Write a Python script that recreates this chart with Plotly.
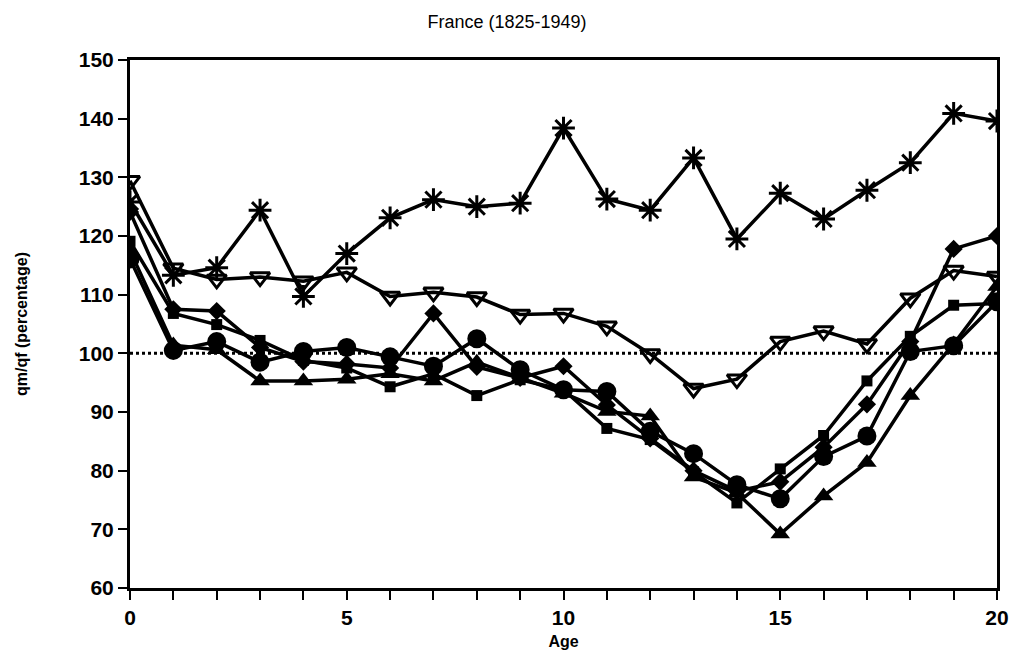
import plotly.graph_objects as go

ages = list(range(21))

asterisk = [125.8, 113.3, 114.6, 124.4, 109.7, 117.0, 123.1, 126.2, 125.0, 125.6, 138.4,
            126.3, 124.4, 133.3, 119.5, 127.3, 122.9, 127.8, 132.5, 140.9, 139.6]
tri_open = [129.4, 114.5, 112.6, 113.0, 112.3, 113.8, 109.7, 110.4, 109.6, 106.6, 106.8,
            104.6, 99.9, 94.0, 95.6, 102.0, 103.8, 101.6, 109.4, 114.1, 113.1]
diamond = [124.1, 107.5, 107.2, 101.0, 98.6, 98.2, 97.5, 106.8, 97.7, 95.8, 97.8,
           91.2, 85.5, 80.0, 76.5, 78.1, 84.0, 91.3, 102.0, 117.8, 120.0]
square = [119.1, 106.8, 104.9, 102.2, 98.8, 97.5, 94.3, 96.5, 92.8, 95.5, 93.8,
          87.2, 85.3, 79.8, 74.5, 80.3, 86.0, 95.3, 102.9, 108.2, 108.5]
circle = [116.1, 100.5, 102.0, 98.5, 100.3, 101.0, 99.4, 97.8, 102.5, 97.2, 93.8,
          93.5, 86.7, 82.9, 77.6, 75.2, 82.4, 85.9, 100.3, 101.3, 108.8]
triangle = [117.5, 101.4, 100.6, 95.3, 95.3, 95.6, 96.5, 95.3, 98.5, 95.8, 93.2,
            90.1, 89.3, 78.9, 76.2, 69.2, 75.7, 81.4, 92.8, 101.6, 111.4]
reference = [100] * 21

x_ticks = list(range(21))
x_ticktext = [str(v) if v % 5 == 0 else "" for v in x_ticks]
y_ticks = [60, 70, 80, 90, 100, 110, 120, 130, 140, 150]

fig = go.Figure()

fig.add_trace(go.Scatter(x=ages, y=reference, mode="lines",
                         line=dict(color="black", width=3, dash="dot"),
                         showlegend=False, hoverinfo="skip"))

series = [
    (asterisk, dict(symbol="asterisk-open", size=19, color="black",
                    line=dict(color="black", width=3))),
    (tri_open, dict(symbol="triangle-down-open", size=17, color="black",
                    line=dict(color="black", width=3))),
    (square, dict(symbol="square", size=11, color="black")),
    (diamond, dict(symbol="diamond", size=14, color="black")),
    (triangle, dict(symbol="triangle-up", size=17, color="black")),
    (circle, dict(symbol="circle", size=19, color="black")),
]
for ys, mk in series:
    fig.add_trace(go.Scatter(x=ages, y=ys, mode="lines+markers",
                             line=dict(color="black", width=3.5),
                             marker=mk, showlegend=False))

fig.update_layout(
    width=1014, height=652,
    margin=dict(l=130, r=17, t=60, b=64),
    paper_bgcolor="white", plot_bgcolor="white",
    title=dict(text="France (1825-1949)", x=0.5, xanchor="center", y=0.976, yanchor="top",
               font=dict(family="Liberation Sans Narrow, Liberation Sans, Arial", size=18, color="black")),
    font=dict(family="Liberation Sans, Arial", color="black"),
)

fig.update_xaxes(
    range=[0, 20], tickvals=x_ticks, ticktext=x_ticktext, automargin=False,
    ticks="outside", ticklen=9, tickwidth=2, tickcolor="black",
    showline=True, linewidth=3, linecolor="black", mirror=True,
    showgrid=False, zeroline=False,
    tickfont=dict(size=21, weight="bold", color="black"),
    title=dict(text="Age", font=dict(size=16, weight="bold", color="black"), standoff=8),
)
fig.update_yaxes(
    range=[60, 150], tickvals=y_ticks, automargin=False,
    ticks="outside", ticklen=9, tickwidth=2, tickcolor="black",
    showline=True, linewidth=3, linecolor="black", mirror=True,
    showgrid=False, zeroline=False,
    tickfont=dict(size=21, weight="bold", color="black"),
    title=dict(text="qm/qf (percentage)", font=dict(size=16, weight="bold", color="black"), standoff=48),
)

fig.write_html("out.html")
